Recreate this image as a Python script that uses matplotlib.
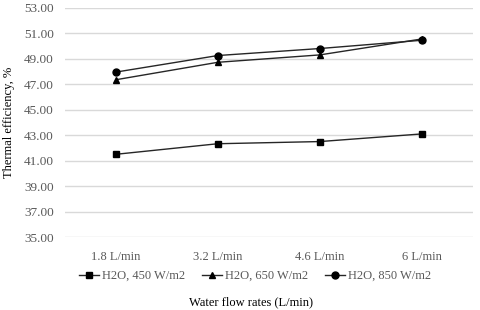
import matplotlib
matplotlib.use("Agg")
import matplotlib.pyplot as plt

categories = ["1.8 L/min", "3.2 L/min", "4.6 L/min", "6 L/min"]
h2o_450 = [41.50, 42.33, 42.50, 43.10]
h2o_650 = [47.35, 48.72, 49.30, 50.55]
h2o_850 = [47.95, 49.25, 49.80, 50.45]
y_ticks = [35, 37, 39, 41, 43, 45, 47, 49, 51, 53]

plt.rcParams["font.family"] = ["Liberation Serif", "DejaVu Serif"]

fig = plt.figure(figsize=(4.8, 3.1), dpi=100)
ax = fig.add_axes([0.135, 0.235, 0.85, 0.74])

x = list(range(len(categories)))
series = [
    (h2o_450, "s", "H2O, 450 W/m2"),
    (h2o_650, "^", "H2O, 650 W/m2"),
    (h2o_850, "o", "H2O, 850 W/m2"),
]
for vals, marker, label in series:
    ax.plot(x, vals, color="#262626", linewidth=1.0, marker=marker,
            markersize=5, markerfacecolor="black", markeredgecolor="black", label=label)

ax.set_xlim(-0.5, len(categories) - 0.5)
ax.set_ylim(35, 53)
ax.set_yticks(y_ticks)
ax.set_yticklabels([f"{v:.2f}" for v in y_ticks])
ax.set_xticks(x)
ax.set_xticklabels(categories)
ax.tick_params(length=0, labelsize=9, colors="#595959")
ax.tick_params(axis="y", labelsize=9.5, pad=8)
ax.tick_params(axis="x", pad=10)
ax.grid(axis="y", color="#d9d9d9", linewidth=1.0)
ax.set_axisbelow(True)
for s in ax.spines.values():
    s.set_visible(False)

ax.set_ylabel("Thermal efficiency, %", fontsize=9, color="black", labelpad=6)
fig.text(251 / 480, 1 - 302 / 310, "Water flow rates (L/min)", ha="center", va="center", fontsize=9)

fig.legend(loc="center", bbox_to_anchor=(255 / 480, 1 - 276 / 310), ncol=3, frameon=False,
           fontsize=9, handlelength=1.6, columnspacing=1.4, handletextpad=0.2,
           labelcolor="#595959")

fig.savefig("out.png", dpi=100)
